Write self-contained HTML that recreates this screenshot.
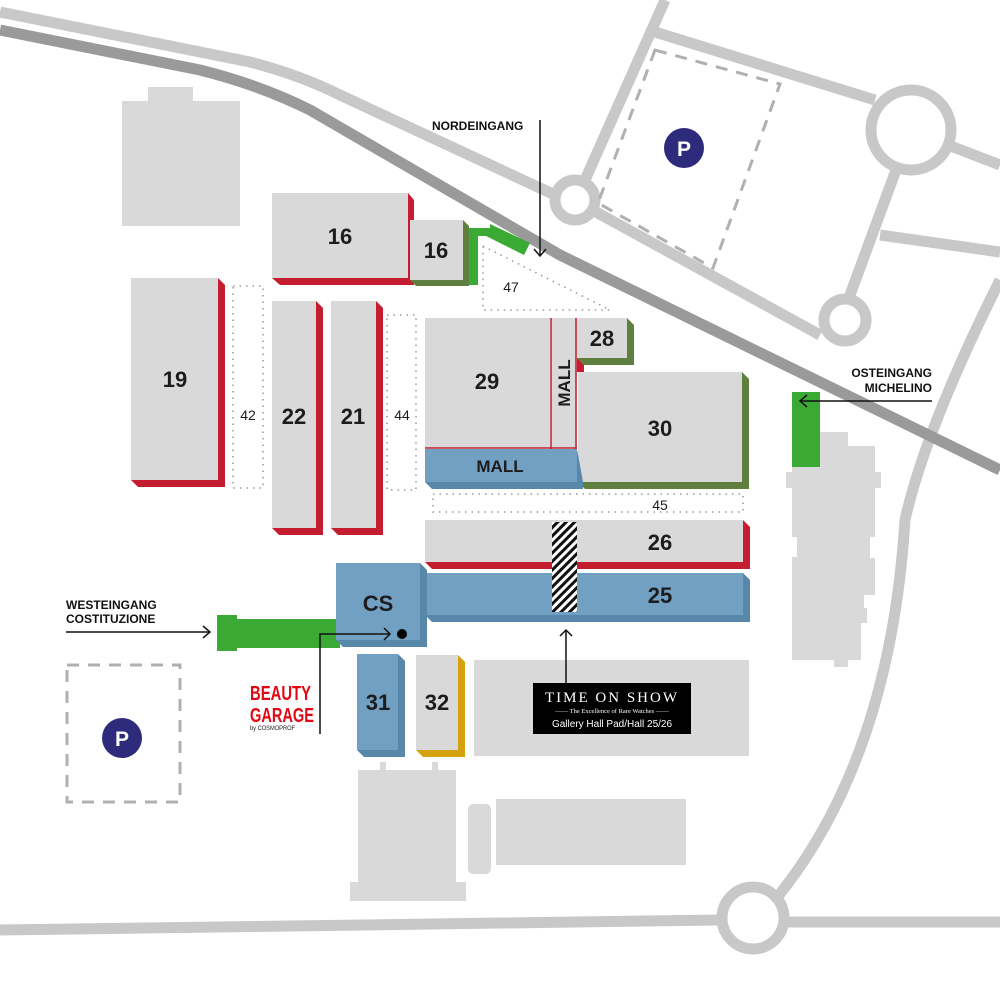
<!DOCTYPE html>
<html><head><meta charset="utf-8"><style>
html,body{margin:0;padding:0;background:#fff}
svg{display:block}
text{font-family:"Liberation Sans",sans-serif}
.n{font-weight:bold;font-size:22px;fill:#1c1c1c;text-anchor:middle}
.m{font-weight:bold;font-size:17px;fill:#1c1c1c;text-anchor:middle}
.s{font-size:14px;fill:#1c1c1c;text-anchor:middle}
.l{font-weight:bold;font-size:12px;fill:#111}
</style></head><body>
<svg width="1000" height="1000" viewBox="0 0 1000 1000" xmlns="http://www.w3.org/2000/svg">
<defs>
<pattern id="h" width="6" height="6" patternUnits="userSpaceOnUse" patternTransform="rotate(45)">
<rect width="6" height="6" fill="#fff"/><rect width="3" height="6" fill="#111"/></pattern>
</defs>
<g fill="none" stroke="#c8c8c8" stroke-width="11">
<path d="M0,12 L250,62 Q300,75 340,95 L555,195"/>
<path d="M596,212 L820,335"/>
<path d="M585,180 L665,0"/>
<path d="M655,32 L875,100"/>
<path d="M948,145 L1000,165"/>
<path d="M896,170 L850,295"/>
<path d="M880,235 L1000,252"/>
<path d="M1000,280 Q925,430 905,520 Q890,760 775,900"/>
<path d="M0,930 L720,920"/>
<path d="M786,922 L1000,922"/>
<circle cx="575" cy="200" r="20"/>
<circle cx="911" cy="130" r="40"/>
<circle cx="845" cy="320" r="21"/>
<circle cx="753" cy="918" r="31"/>
</g>
<path d="M0,30 L200,70 Q260,85 310,110 L560,255 L1000,470" fill="none" stroke="#9b9a9b" stroke-width="11"/>
<polygon points="655,50 780,84 713,268 598,203" fill="none" stroke="#b0b0b0" stroke-width="3" stroke-dasharray="12,9"/>
<circle cx="684" cy="148" r="20" fill="#2e2a7c"/><text x="684" y="156" font-weight="bold" font-size="21" fill="#fff" text-anchor="middle">P</text>
<rect x="67" y="665" width="113" height="137" fill="none" stroke="#b0b0b0" stroke-width="3" stroke-dasharray="12,9"/>
<circle cx="122" cy="738" r="20" fill="#2e2a7c"/><text x="122" y="746" font-weight="bold" font-size="21" fill="#fff" text-anchor="middle">P</text>
<g fill="#d9d9d9">
<rect x="122" y="101" width="118" height="125"/><rect x="148" y="87" width="45" height="15"/>
<rect x="474" y="660" width="275" height="96"/>
<rect x="358" y="770" width="98" height="115"/><rect x="350" y="882" width="116" height="19"/>
<rect x="380" y="762" width="6" height="10"/><rect x="432" y="762" width="6" height="10"/>
<rect x="468" y="804" width="23" height="70" rx="5"/>
<rect x="496" y="799" width="190" height="66"/>
<polygon points="820,432 848,432 848,446 875,446 875,472 881,472 881,488 875,488 875,537 870,537 870,558 875,558 875,595 864,595 864,608 867,608 867,623 861,623 861,660 848,660 848,667 834,667 834,660 792,660 792,557 797,557 797,537 792,537 792,488 786,488 786,472 792,472 792,432"/>
</g>
<g fill="#3aaa35">
<rect x="792" y="392" width="28" height="75"/>
<rect x="217" y="615" width="20" height="36"/><rect x="235" y="619" width="105" height="29"/>
<polygon points="468,228 490,228 490,224 530,243 524,255 486,236 478,236 478,285 468,285"/>
</g>
<g fill="none" stroke="#999" stroke-width="1.5" stroke-dasharray="1.5,5">
<rect x="233" y="286" width="30" height="202"/>
<rect x="387" y="315" width="29" height="175"/>
<rect x="433" y="494" width="310" height="18"/>
<polygon points="483,246 610,310 483,310"/>
</g>
<polygon points="272,278 408,193 414,200 414,285 280,285" fill="#c41d2f"/><rect x="272" y="193" width="136" height="85" fill="#d9d9d9"/>
<polygon points="410,280 463,220 469,226 469,286 416,286" fill="#5f7f3e"/><rect x="410" y="220" width="53" height="60" fill="#d9d9d9"/>
<line x1="409" y1="220" x2="409" y2="280" stroke="#c41d2f" stroke-width="1.5"/>
<polygon points="131,480 218,278 225,285 225,487 138,487" fill="#c41d2f"/><rect x="131" y="278" width="87" height="202" fill="#d9d9d9"/>
<polygon points="272,528 316,301 323,308 323,535 279,535" fill="#c41d2f"/><rect x="272" y="301" width="44" height="227" fill="#d9d9d9"/>
<polygon points="331,528 376,301 383,308 383,535 338,535" fill="#c41d2f"/><rect x="331" y="301" width="45" height="227" fill="#d9d9d9"/>
<polygon points="577,358 627,318 634,325 634,365 584,365" fill="#5f7f3e"/><rect x="577" y="318" width="50" height="40" fill="#d9d9d9"/>
<polygon points="577,358 584,365 584,372 577,372" fill="#c41d2f"/>
<polygon points="578,482 742,372 749,379 749,489 585,489" fill="#5f7f3e"/><rect x="578" y="372" width="164" height="110" fill="#d9d9d9"/>
<rect x="425" y="318" width="125" height="130" fill="#d9d9d9"/>
<rect x="551" y="318" width="26" height="130" fill="#d9d9d9"/>
<line x1="551" y1="318" x2="551" y2="449" stroke="#c41d2f" stroke-width="1.5"/>
<line x1="576" y1="318" x2="576" y2="449" stroke="#c41d2f" stroke-width="1.5"/>
<line x1="425" y1="448" x2="577" y2="448" stroke="#c41d2f" stroke-width="1.5"/>
<polygon points="425,482 577,449 583,482 583,489 432,489" fill="#5787a9"/>
<rect x="425" y="449" width="152" height="33" fill="#72a0c3"/>
<polygon points="425,562 743,520 750,527 750,569 432,569" fill="#c41d2f"/><rect x="425" y="520" width="318" height="42" fill="#d9d9d9"/>
<polygon points="425,615 743,573 750,580 750,622 432,622" fill="#5787a9"/><rect x="425" y="573" width="318" height="42" fill="#72a0c3"/>
<rect x="552" y="522" width="25" height="90" fill="url(#h)"/>
<polygon points="336,640 420,563 427,570 427,647 343,647" fill="#5787a9"/><rect x="336" y="563" width="84" height="77" fill="#72a0c3"/>
<polygon points="357,750 398,654 405,661 405,757 364,757" fill="#5787a9"/><rect x="357" y="654" width="41" height="96" fill="#72a0c3"/>
<polygon points="416,750 458,655 465,662 465,757 423,757" fill="#d4a20c"/><rect x="416" y="655" width="42" height="95" fill="#d9d9d9"/>
<text class="n" x="340" y="244">16</text>
<text class="n" x="436" y="258">16</text>
<text class="n" x="175" y="387">19</text>
<text class="n" x="294" y="424">22</text>
<text class="n" x="353" y="424">21</text>
<text class="s" x="248" y="420">42</text>
<text class="s" x="402" y="420">44</text>
<text class="s" x="511" y="292">47</text>
<text class="s" x="660" y="510">45</text>
<text class="n" x="487" y="389">29</text>
<text class="n" x="602" y="346">28</text>
<text class="n" x="660" y="436">30</text>
<text class="m" x="500" y="472">MALL</text>
<text class="m" transform="translate(570,383) rotate(-90)">MALL</text>
<text class="n" x="660" y="550">26</text>
<text class="n" x="660" y="603">25</text>
<text class="n" x="378" y="611">CS</text>
<text class="n" x="378" y="710">31</text>
<text class="n" x="437" y="710">32</text>
<g stroke="#111" stroke-width="1.5" fill="none">
<line x1="540" y1="120" x2="540" y2="256"/><polyline points="534,249 540,256 546,249"/>
<line x1="932" y1="401" x2="800" y2="401"/><polyline points="807,395 800,401 807,407"/>
<line x1="66" y1="632" x2="210" y2="632"/><polyline points="203,626 210,632 203,638"/>
<polyline points="320,734 320,634 390,634"/><polyline points="384,628 390,634 384,640"/>
<line x1="566" y1="683" x2="566" y2="630"/><polyline points="560,636 566,630 572,636"/>
</g>
<circle cx="402" cy="634" r="5" fill="#000"/>
<text class="l" x="432" y="130">NORDEINGANG</text>
<text class="l" x="932" y="377" text-anchor="end">OSTEINGANG</text>
<text class="l" x="932" y="392" text-anchor="end">MICHELINO</text>
<text class="l" x="66" y="609">WESTEINGANG</text>
<text class="l" x="66" y="623">COSTITUZIONE</text>
<text x="250" y="700" font-weight="bold" font-size="20" fill="#e30613" textLength="61" lengthAdjust="spacingAndGlyphs">BEAUTY</text>
<text x="250" y="722" font-weight="bold" font-size="20" fill="#e30613" textLength="64" lengthAdjust="spacingAndGlyphs">GARAGE</text>
<text x="250" y="730" font-size="6" fill="#222" textLength="45" lengthAdjust="spacingAndGlyphs">by COSMOPROF</text>
<rect x="533" y="683" width="158" height="51" fill="#000"/>
<text x="612" y="702" font-size="15" fill="#fff" text-anchor="middle" letter-spacing="2" style="font-family:'Liberation Serif',serif">TIME ON SHOW</text>
<text x="612" y="713" font-size="6.5" fill="#fff" text-anchor="middle" style="font-family:'Liberation Serif',serif">—— The Excellence of Rare Watches ——</text>
<text x="612" y="727" font-size="10" fill="#fff" text-anchor="middle">Gallery Hall Pad/Hall 25/26</text>
</svg>
</body></html>
